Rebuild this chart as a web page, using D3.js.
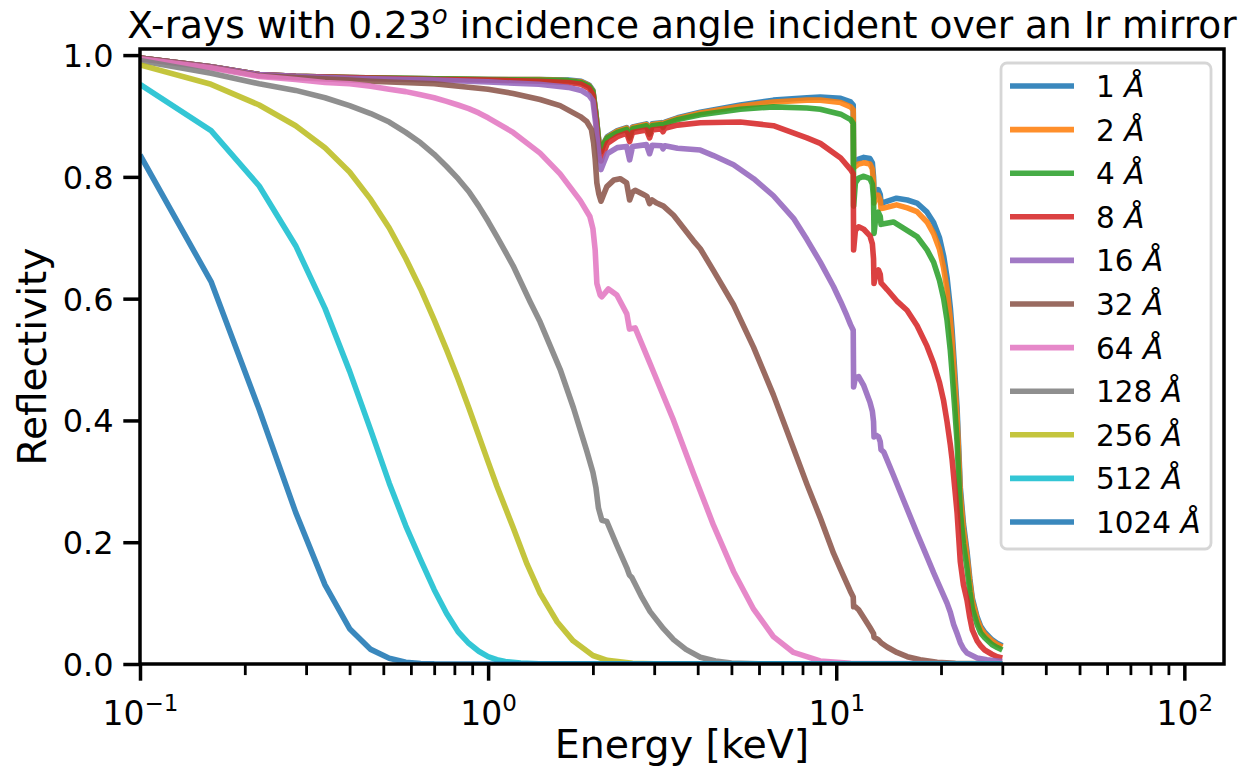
<!DOCTYPE html>
<html>
<head>
<meta charset="utf-8">
<script src="https://cdn.jsdelivr.net/npm/d3@7/dist/d3.min.js"></script>
<style>
  body { margin: 0; background: #ffffff; }
  svg text { font-family: "DejaVu Sans", sans-serif; fill: #000; }
</style>
</head>
<body>
<svg id="chart" width="1246" height="770"></svg>
<script>
// Surface roughness of each curve (Å) and the matching line colours
const roughness = [1, 2, 4, 8, 16, 32, 64, 128, 256, 512, 1024];
const lineColors = ["#1f77b4", "#ff7f0e", "#2ca02c", "#d62728", "#9467bd",
                    "#8c564b", "#e377c2", "#7f7f7f", "#bcbd22", "#17becf", "#1f77b4"];

// Reflectivity curves: [energy keV, reflectivity]
const refl_1A = [[0.1,0.995],[0.16,0.981],[0.22,0.968],[0.28,0.965],[0.4,0.963],[0.7,0.961],[1.0,0.960],[1.4,0.960],[1.7,0.959],[1.85,0.957],[1.95,0.951],[2.0,0.942],[2.04,0.905],[2.08,0.858],[2.11,0.843],[2.15,0.856],[2.2,0.866],[2.35,0.876],[2.5,0.881],[2.55,0.867],[2.6,0.882],[2.85,0.887],[2.91,0.873],[2.96,0.887],[3.15,0.889],[3.18,0.884],[3.22,0.890],[3.5,0.897],[4.07,0.906],[5.3,0.918],[6.6,0.926],[8.24,0.930],[9.0,0.931],[10.3,0.929],[11.0,0.923],[11.19,0.918],[11.22,0.822],[11.6,0.829],[12.0,0.832],[12.5,0.830],[12.7,0.823],[12.8,0.800],[12.84,0.765],[13.0,0.772],[13.2,0.779],[13.38,0.771],[13.45,0.757],[13.7,0.758],[14.9,0.765],[16.0,0.762],[17.06,0.757],[18.23,0.742],[19.04,0.725],[19.8,0.700],[20.35,0.670],[20.81,0.635],[21.27,0.585],[21.51,0.550],[21.9,0.480],[22.24,0.420],[22.5,0.350],[22.72,0.290],[23.2,0.230],[23.75,0.185],[24.2,0.140],[24.6,0.108],[25.4,0.077],[26.0,0.062],[26.7,0.052],[28.0,0.040],[29.0,0.034],[30.0,0.030]];
const refl_2A = [[0.1,0.995],[0.16,0.981],[0.22,0.968],[0.28,0.965],[0.4,0.963],[0.7,0.961],[1.0,0.960],[1.4,0.960],[1.7,0.958],[1.85,0.956],[1.95,0.950],[2.0,0.941],[2.04,0.904],[2.08,0.857],[2.11,0.842],[2.15,0.855],[2.2,0.865],[2.35,0.875],[2.5,0.880],[2.55,0.866],[2.6,0.881],[2.85,0.886],[2.91,0.872],[2.96,0.886],[3.15,0.888],[3.18,0.883],[3.22,0.889],[3.5,0.896],[4.07,0.905],[5.3,0.916],[6.6,0.923],[8.24,0.926],[9.0,0.926],[10.3,0.922],[11.0,0.915],[11.19,0.910],[11.22,0.815],[11.6,0.821],[12.0,0.823],[12.5,0.821],[12.7,0.813],[12.8,0.791],[12.84,0.757],[13.0,0.764],[13.2,0.770],[13.38,0.762],[13.45,0.748],[13.7,0.749],[14.9,0.754],[16.0,0.749],[17.06,0.743],[18.23,0.726],[19.04,0.707],[19.8,0.681],[20.35,0.650],[20.81,0.615],[21.27,0.566],[21.51,0.532],[21.9,0.464],[22.24,0.406],[22.5,0.338],[22.72,0.280],[23.2,0.222],[23.75,0.178],[24.2,0.135],[24.6,0.104],[25.4,0.074],[26.0,0.059],[26.7,0.049],[28.0,0.038],[29.0,0.032],[30.0,0.028]];
const refl_4A = [[0.1,0.995],[0.16,0.981],[0.22,0.968],[0.28,0.965],[0.4,0.963],[0.7,0.961],[1.0,0.960],[1.4,0.959],[1.7,0.958],[1.85,0.955],[1.95,0.949],[2.0,0.940],[2.04,0.903],[2.08,0.856],[2.11,0.841],[2.15,0.854],[2.2,0.864],[2.35,0.873],[2.5,0.878],[2.55,0.864],[2.6,0.879],[2.85,0.884],[2.91,0.870],[2.96,0.884],[3.15,0.886],[3.18,0.881],[3.22,0.887],[3.5,0.894],[4.07,0.902],[5.3,0.911],[6.6,0.915],[8.24,0.913],[9.0,0.911],[10.3,0.903],[11.0,0.894],[11.19,0.888],[11.22,0.752],[11.35,0.790],[11.6,0.798],[12.0,0.801],[12.5,0.797],[12.7,0.788],[12.8,0.765],[12.84,0.707],[13.0,0.735],[13.2,0.742],[13.38,0.735],[13.45,0.722],[13.7,0.723],[14.6,0.726],[15.6,0.716],[17.06,0.702],[18.23,0.680],[19.04,0.660],[19.8,0.630],[20.35,0.600],[20.81,0.565],[21.27,0.515],[21.51,0.480],[21.9,0.420],[22.24,0.365],[22.5,0.303],[22.72,0.250],[23.2,0.197],[23.75,0.157],[24.2,0.119],[24.6,0.091],[25.4,0.065],[26.0,0.051],[26.7,0.043],[28.0,0.032],[29.0,0.027],[30.0,0.023]];
const refl_8A = [[0.1,0.995],[0.16,0.981],[0.22,0.968],[0.28,0.965],[0.4,0.963],[0.7,0.960],[1.0,0.959],[1.4,0.957],[1.7,0.955],[1.85,0.952],[1.95,0.945],[2.0,0.935],[2.04,0.895],[2.08,0.845],[2.11,0.826],[2.15,0.840],[2.2,0.855],[2.35,0.866],[2.5,0.872],[2.55,0.858],[2.6,0.873],[2.85,0.877],[2.91,0.864],[2.96,0.877],[3.15,0.879],[3.18,0.874],[3.22,0.880],[3.5,0.885],[4.07,0.889],[5.3,0.890],[6.6,0.884],[8.24,0.864],[9.0,0.855],[10.3,0.831],[11.0,0.812],[11.19,0.805],[11.22,0.680],[11.35,0.712],[11.6,0.718],[12.0,0.714],[12.5,0.703],[12.7,0.690],[12.8,0.665],[12.84,0.625],[13.0,0.640],[13.23,0.647],[13.38,0.640],[13.45,0.626],[13.7,0.621],[14.0,0.615],[15.0,0.595],[15.97,0.581],[17.06,0.556],[18.23,0.522],[19.04,0.494],[19.8,0.462],[20.35,0.432],[20.81,0.398],[21.27,0.360],[21.51,0.337],[21.9,0.290],[22.24,0.249],[22.5,0.205],[22.72,0.168],[23.2,0.130],[23.75,0.105],[24.2,0.076],[24.6,0.056],[25.4,0.038],[26.0,0.030],[26.7,0.023],[28.0,0.016],[29.0,0.012],[30.0,0.010]];
const refl_16A = [[0.1,0.995],[0.16,0.981],[0.22,0.968],[0.28,0.965],[0.4,0.962],[0.7,0.959],[1.0,0.956],[1.4,0.952],[1.7,0.947],[1.85,0.942],[1.95,0.934],[2.0,0.925],[2.04,0.885],[2.08,0.835],[2.11,0.812],[2.15,0.824],[2.2,0.838],[2.35,0.848],[2.5,0.850],[2.55,0.828],[2.6,0.850],[2.85,0.853],[2.91,0.838],[2.96,0.852],[3.15,0.851],[3.18,0.846],[3.22,0.851],[3.5,0.847],[4.07,0.844],[4.44,0.835],[5.07,0.820],[5.79,0.797],[6.6,0.769],[7.54,0.732],[8.24,0.697],[9.0,0.660],[9.82,0.620],[10.3,0.595],[10.73,0.572],[11.0,0.557],[11.19,0.548],[11.22,0.455],[11.35,0.470],[11.6,0.472],[12.0,0.457],[12.5,0.430],[12.7,0.415],[12.8,0.398],[12.84,0.373],[13.0,0.376],[13.23,0.373],[13.38,0.365],[13.45,0.352],[13.7,0.348],[14.6,0.310],[15.61,0.269],[17.06,0.215],[18.23,0.176],[19.04,0.150],[19.8,0.128],[20.81,0.100],[21.27,0.085],[21.74,0.065],[22.24,0.050],[22.72,0.035],[23.2,0.025],[23.75,0.018],[25.4,0.010],[27.1,0.007],[30.0,0.004]];
const refl_32A = [[0.1,0.995],[0.16,0.980],[0.22,0.966],[0.28,0.963],[0.4,0.959],[0.46,0.957],[0.7,0.953],[1.0,0.944],[1.18,0.937],[1.41,0.927],[1.61,0.917],[1.84,0.899],[1.92,0.891],[1.98,0.878],[2.01,0.855],[2.03,0.830],[2.053,0.790],[2.08,0.772],[2.11,0.760],[2.15,0.772],[2.193,0.784],[2.3,0.795],[2.395,0.797],[2.5,0.790],[2.55,0.762],[2.6,0.775],[2.645,0.778],[2.795,0.771],[2.86,0.768],[2.91,0.756],[2.96,0.762],[3.05,0.757],[3.19,0.752],[3.41,0.737],[3.89,0.695],[4.07,0.682],[4.44,0.646],[5.07,0.590],[5.79,0.520],[6.6,0.442],[7.54,0.354],[8.24,0.295],[9.0,0.240],[9.82,0.182],[10.3,0.155],[10.97,0.120],[11.19,0.110],[11.22,0.094],[11.35,0.094],[11.6,0.089],[12.0,0.076],[12.5,0.060],[12.8,0.050],[12.84,0.044],[13.2,0.040],[13.45,0.035],[14.0,0.028],[14.94,0.019],[16.0,0.012],[17.43,0.007],[19.5,0.003],[22.0,0.001],[30.0,0.0]];
const refl_64A = [[0.1,0.994],[0.16,0.979],[0.22,0.965],[0.28,0.960],[0.34,0.955],[0.4,0.953],[0.46,0.949],[0.52,0.944],[0.58,0.940],[0.64,0.935],[0.7,0.930],[0.76,0.924],[0.82,0.918],[0.88,0.912],[0.94,0.905],[1.0,0.897],[1.18,0.873],[1.41,0.839],[1.61,0.805],[1.84,0.761],[1.96,0.735],[2.0,0.715],[2.03,0.680],[2.053,0.625],[2.098,0.606],[2.122,0.603],[2.217,0.616],[2.343,0.606],[2.503,0.575],[2.547,0.550],[2.645,0.552],[2.921,0.493],[2.985,0.480],[3.41,0.400],[3.89,0.313],[4.44,0.228],[5.07,0.152],[5.79,0.090],[6.6,0.045],[7.54,0.019],[8.99,0.005],[11.0,0.001],[30.0,0.0]];
const refl_128A = [[0.1,0.991],[0.16,0.970],[0.22,0.953],[0.28,0.942],[0.34,0.930],[0.4,0.917],[0.46,0.904],[0.52,0.890],[0.58,0.873],[0.64,0.856],[0.7,0.837],[0.76,0.817],[0.82,0.797],[0.88,0.776],[0.94,0.752],[1.0,0.727],[1.06,0.702],[1.18,0.654],[1.32,0.595],[1.41,0.562],[1.61,0.484],[1.76,0.420],[1.92,0.350],[2.0,0.315],[2.04,0.290],[2.075,0.256],[2.122,0.236],[2.193,0.234],[2.343,0.195],[2.503,0.158],[2.547,0.146],[2.588,0.142],[2.75,0.112],[2.92,0.086],[3.19,0.058],[3.41,0.040],[3.7,0.024],[4.07,0.011],[4.5,0.005],[5.0,0.0015],[6.0,0.0002],[30.0,0.0]];
const refl_256A = [[0.1,0.984],[0.16,0.952],[0.22,0.918],[0.28,0.884],[0.34,0.848],[0.4,0.808],[0.46,0.763],[0.52,0.716],[0.58,0.666],[0.64,0.616],[0.7,0.565],[0.76,0.516],[0.82,0.468],[0.88,0.421],[0.94,0.375],[1.0,0.332],[1.06,0.292],[1.18,0.224],[1.294,0.164],[1.411,0.116],[1.58,0.069],[1.755,0.038],[2.0,0.014],[2.2,0.006],[2.6,0.001],[3.0,0.0002],[30.0,0.0]];
const refl_512A = [[0.1,0.952],[0.16,0.876],[0.22,0.785],[0.28,0.687],[0.34,0.584],[0.4,0.481],[0.46,0.384],[0.52,0.297],[0.58,0.227],[0.64,0.171],[0.7,0.122],[0.76,0.083],[0.82,0.053],[0.88,0.034],[0.94,0.021],[1.0,0.012],[1.06,0.007],[1.12,0.004],[1.24,0.0015],[1.4,0.0003],[30.0,0.0]];
const refl_1024A = [[0.1,0.836],[0.16,0.628],[0.22,0.418],[0.28,0.249],[0.34,0.130],[0.4,0.058],[0.46,0.024],[0.52,0.0095],[0.58,0.003],[0.64,0.0009],[0.7,0.0002],[0.76,0.00005],[30.0,0.0]];

const curves = [refl_1A, refl_2A, refl_4A, refl_8A, refl_16A, refl_32A,
                refl_64A, refl_128A, refl_256A, refl_512A, refl_1024A];

// Axis ticks
const xMajorTicks = [0.1, 1, 10, 100];
const xMajorExponents = ["\u22121", "0", "1", "2"];
const xMinorTicks = [0.2,0.3,0.4,0.5,0.6,0.7,0.8,0.9, 2,3,4,5,6,7,8,9, 20,30,40,50,60,70,80,90];
const yTicks = [0.0, 0.2, 0.4, 0.6, 0.8, 1.0];

const svg = d3.select("#chart");
const W = 1246, H = 770;
const plot = { left: 140, right: 1224, top: 49, bottom: 664 };

const x = d3.scaleLog().domain([0.1, 130]).range([plot.left, plot.right]);
const y = d3.scaleLinear().domain([0, 1.01]).range([plot.bottom, plot.top]);

svg.append("rect").attr("width", W).attr("height", H).attr("fill", "#fff");

svg.append("defs").append("clipPath").attr("id", "plotClip")
  .append("rect")
  .attr("x", plot.left).attr("y", plot.top)
  .attr("width", plot.right - plot.left).attr("height", plot.bottom - plot.top);

// Curves
const line = d3.line().x(d => x(d[0])).y(d => y(d[1]));
const lineGroup = svg.append("g").attr("clip-path", "url(#plotClip)");
curves.forEach((c, i) => {
  lineGroup.append("path")
    .datum(c)
    .attr("d", line)
    .attr("fill", "none")
    .attr("stroke", lineColors[i])
    .attr("stroke-opacity", 0.88)
    .attr("stroke-width", 5.6)
    .attr("stroke-linejoin", "round")
    .attr("stroke-linecap", "butt");
});

// X axis: major and minor ticks
const xAxisMajor = d3.axisBottom(x).tickValues(xMajorTicks).tickSize(16.7).tickFormat(() => "");
const xAxisMinor = d3.axisBottom(x).tickValues(xMinorTicks).tickSize(11.1).tickFormat(() => "");
const gxMinor = svg.append("g").attr("transform", `translate(0,${plot.bottom})`).call(xAxisMinor);
gxMinor.select(".domain").remove();
gxMinor.selectAll(".tick line").attr("stroke", "#000").attr("stroke-width", 2.8);
const gx = svg.append("g").attr("transform", `translate(0,${plot.bottom})`).call(xAxisMajor);
gx.select(".domain").remove();
gx.selectAll(".tick line").attr("stroke", "#000").attr("stroke-width", 3.5);
gx.selectAll(".tick").each(function(d, i) {
  const t = d3.select(this).append("text")
    .attr("x", 0).attr("y", 61)
    .attr("text-anchor", "middle")
    .style("font-size", "33px");
  t.append("tspan").text("10");
  t.append("tspan").attr("dy", -14).style("font-size", "23px").text(xMajorExponents[i]);
});

// Y axis
const yAxis = d3.axisLeft(y).tickValues(yTicks).tickSize(16.7).tickPadding(9.7)
  .tickFormat(d3.format(".1f"));
const gy = svg.append("g").attr("transform", `translate(${plot.left},0)`).call(yAxis);
gy.select(".domain").remove();
gy.selectAll(".tick line").attr("stroke", "#000").attr("stroke-width", 3.5);
gy.selectAll(".tick text")
  .attr("font-family", null)
  .attr("font-size", null)
  .style("font-size", "32px")
  .attr("fill", "#000")
  .attr("dy", "0.36em");

// Frame
svg.append("rect")
  .attr("x", plot.left).attr("y", plot.top)
  .attr("width", plot.right - plot.left).attr("height", plot.bottom - plot.top)
  .attr("fill", "none").attr("stroke", "#000").attr("stroke-width", 3.5);

// Title and axis labels
const title = svg.append("text")
  .attr("x", (plot.left + plot.right) / 2).attr("y", 38)
  .attr("text-anchor", "middle").style("font-size", "37.5px");
title.append("tspan").text("X-rays with 0.23");
title.append("tspan").attr("dy", -14).style("font-size", "26px").style("font-style", "italic").text("o");
title.append("tspan").attr("dy", 14).text(" incidence angle incident over an Ir mirror");

svg.append("text")
  .attr("x", (plot.left + plot.right) / 2).attr("y", 758)
  .attr("text-anchor", "middle").style("font-size", "39.5px")
  .text("Energy [keV]");

svg.append("text")
  .attr("transform", `translate(46,${(plot.top + plot.bottom) / 2}) rotate(-90)`)
  .attr("text-anchor", "middle").style("font-size", "39px")
  .text("Reflectivity");

// Legend
const legend = { left: 1001, top: 63, width: 210, height: 486, rowY: 86, rowStep: 43.6 };
svg.append("rect")
  .attr("x", legend.left).attr("y", legend.top)
  .attr("width", legend.width).attr("height", legend.height)
  .attr("rx", 6).attr("ry", 6)
  .attr("fill", "#fff").attr("fill-opacity", 0.8)
  .attr("stroke", "#cccccc").attr("stroke-opacity", 0.8).attr("stroke-width", 2.8);

roughness.forEach((r, i) => {
  const cy = legend.rowY + i * legend.rowStep;
  svg.append("line")
    .attr("x1", 1010).attr("x2", 1074).attr("y1", cy).attr("y2", cy)
    .attr("stroke", lineColors[i]).attr("stroke-opacity", 0.88).attr("stroke-width", 5.6);
  const t = svg.append("text").attr("x", 1096).attr("y", cy + 11).style("font-size", "29.5px");
  t.append("tspan").text(r + " ");
  t.append("tspan").style("font-style", "italic").text("\u00c5");
});
</script>
</body>
</html>
